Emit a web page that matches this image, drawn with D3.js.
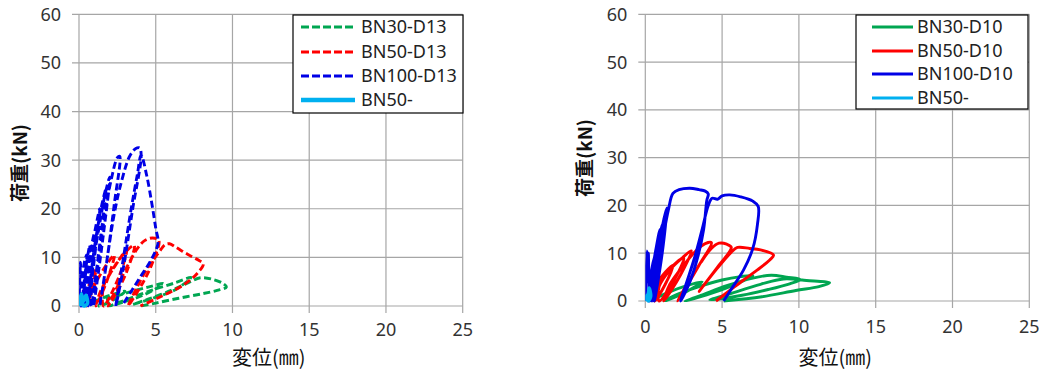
<!DOCTYPE html>
<html>
<head>
<meta charset="utf-8">
<script src="https://cdn.jsdelivr.net/npm/d3@7"></script>
<style>
  body { margin: 0; background: #fff; }
  svg { display: block; }
</style>
</head>
<body>
<div id="chart-area"></div>
<script>
// tick values
const xTicks = [0, 5, 10, 15, 20, 25];
const yTicks = [0, 10, 20, 30, 40, 50, 60];

// left panel (D13), [displacement mm, load kN]
const d13Names = ["BN30-D13", "BN50-D13", "BN100-D13", "BN50-"];
const d13BN30 = [
  [0.3,0],[1.2,1.2],[2.2,2.4],[3.0,3.0],[2.2,1.2],[1.3,0],
  [1.5,0.8],[3.0,2.6],[4.5,3.9],[5.5,4.6],[4.3,2.4],[3.0,0.9],[2.0,0],
  [3.0,1.2],[4.8,3.3],[6.3,4.8],[7.3,5.9],[6.3,3.4],[4.8,1.6],[3.5,0.3],
  [4.5,1.4],[6.0,3.2],[7.2,4.9],[7.9,5.8],[8.7,5.5],[9.4,4.6],[9.6,3.9],[9.0,3.2],[8.0,2.5],[6.5,1.6],[5.0,0.6],[4.0,0]
];
const d13BN50 = [
  [0.2,0],[0.5,3],[0.8,5.5],[1.1,7.5],[0.8,3],[0.5,0],
  [0.9,3.5],[1.4,6.5],[1.9,9],[2.3,10.5],[1.8,5],[1.1,0],
  [1.4,3],[2.0,6.5],[2.6,9.5],[3.1,11.5],[2.6,6],[1.6,0],
  [1.6,4],[2.3,8],[3.0,11],[3.6,12.5],[3.1,7],[2.4,2.5],[1.9,0],
  [2.5,4],[3.2,8.5],[3.8,11.8],[4.3,13.5],[4.8,14],[5.2,13.5],[4.8,9],[4.2,5],[3.2,0],
  [3.8,4],[4.5,8],[5.2,11],[5.6,12.6],[5.9,12.8],[6.3,12.1],[7.1,10.6],[7.8,9.4],[8.1,8.7],[7.7,6.7],[6.8,4.3],[5.1,1.6],[4.0,0]
];
const d13BN100 = [
  [0,0],[0.1,9],[0.12,0],
  [0.2,5],[0.35,9],[0.5,10.5],[0.35,4],[0.2,0],
  [0.3,4],[0.5,9],[0.7,12.5],[0.55,6],[0.35,0],
  [0.5,6],[0.8,12],[1.0,15],[0.8,7],[0.45,0],
  [0.6,6],[0.9,13],[1.2,18],[1.35,20],[1.05,11],[0.6,0],
  [0.8,7],[1.1,14],[1.5,21],[1.75,24],[1.4,14],[0.8,0],
  [0.9,8],[1.3,16],[1.7,23],[2.0,26.5],[1.6,15],[0.95,0],
  [1.3,10],[1.7,19],[2.1,26],[2.5,30.5],[2.65,30.8],[2.3,21],[1.8,9],[1.35,0],
  [1.8,9],[2.3,19],[2.8,26],[3.3,30.8],[3.7,32.4],[3.95,32.5],[4.05,31],[3.5,20],[2.9,8],[2.4,0],
  [2.9,10],[3.4,20],[3.8,27],[4.05,31],[4.4,27],[4.75,21],[5.0,16],[5.15,13],[4.7,9.5],[4.0,6],[3.4,3],[2.8,0]
];
const d13BN50s = [[0,0],[0.15,2.5],[0.3,1],[0.45,2.2],[0.55,0.5],[0.3,0],[0.2,1.8],[0.1,0]];

// right panel (D10)
const d10Names = ["BN30-D10", "BN50-D10", "BN100-D10", "BN50-"];
const d10BN30 = [
  [0.3,0],[1.5,1.8],[2.7,3.2],[3.7,4.0],[2.7,2.0],[1.3,0],
  [1.8,1.0],[3.5,3.0],[5.0,4.4],[6.2,5.1],[7.0,5.3],[5.5,3.0],[4.0,1.3],[2.6,0],
  [3.5,1.0],[5.3,3.2],[7.0,4.8],[8.2,5.4],[9.2,5.0],[10.1,4.5],[9.4,3.6],[8.0,2.4],[6.3,1.2],[4.2,0.2],
  [5.5,1.5],[7.5,3.5],[9.0,4.6],[10.5,4.3],[12.0,3.8],[11.3,3.0],[9.8,2.2],[7.6,0.9],[5.1,0]
];
const d10BN50 = [
  [0.2,0],[0.7,3.5],[1.3,6],[1.8,7.5],[1.3,3.5],[0.6,0],
  [0.7,2.5],[1.3,5.5],[2.0,8],[2.5,9],[1.9,4.5],[0.9,0],
  [0.9,3],[1.6,6.5],[2.4,9],[3.0,10.5],[2.3,5.5],[1.2,0],
  [1.6,3.5],[2.5,7.5],[3.3,10.5],[3.9,12],[4.3,12.2],[3.5,7.5],[2.1,0],
  [2.8,4],[3.6,8],[4.3,11],[4.8,12.1],[5.3,11.9],[5.6,11.2],[4.8,7.5],[3.5,2],
  [4.6,6.5],[5.6,10.2],[6.0,11.2],[6.8,11],[7.5,10.7],[8.35,9.6],[8.1,8.6],[7.3,6.5],[6.4,4.4],[5.5,2.2],[4.6,0]
];
const d10BN100 = [
  [0,0],[0.1,10.5],[0.15,4],[0.2,10],[0.25,0],
  [0.3,4],[0.5,8],[0.7,10],[0.5,4],[0.3,0],
  [0.4,5],[0.7,11],[0.95,15],[0.7,7],[0.4,0],
  [0.5,5],[0.8,11],[1.1,16],[0.85,8],[0.5,0],
  [0.6,6],[0.9,12],[1.2,17],[1.4,19.5],[1.1,10],[0.6,0],
  [0.9,8],[1.2,14],[1.5,19],[1.8,22.5],[2.2,23.3],[2.9,23.6],[3.5,23.3],[3.9,23],[4.1,22.4],[4.0,21],[3.8,15],[3.4,9],[2.9,4],[2.3,0],
  [2.7,4],[3.2,9],[3.7,15],[4.1,20],[4.35,21.5],[4.7,21.3],[5.0,22],[5.5,22.2],[6.2,21.8],[7.0,20.9],[7.35,19.8],[7.3,16],[7.0,11],[6.4,6.5],[5.6,2.5],[5.1,0]
];
const d10BN50s = [[0,0],[0.2,1.5],[0.25,2.7],[0.35,1],[0.2,0],[0.1,1.2],[0,0]];

const colors = ["#00a651", "#ff0000", "#0000e6", "#00b0f0"];

const W = 1043, H = 374;
const svg = d3.select("#chart-area").append("svg")
  .attr("width", W).attr("height", H)
  .style("font-family", "'Noto Sans', sans-serif");

function drawPanel(opts) {
  const x = d3.scaleLinear().domain([0, 25]).range([opts.left, opts.right]);
  const y = d3.scaleLinear().domain([0, 60]).range([opts.bottom, opts.top]);
  const g = svg.append("g");

  // grid
  g.selectAll(".vg").data(xTicks).enter().append("line")
    .attr("x1", d => x(d)).attr("x2", d => x(d))
    .attr("y1", opts.top).attr("y2", opts.bottom + 7)
    .attr("stroke", "#a6a6a6").attr("stroke-width", 1.2);
  g.selectAll(".hg").data(yTicks).enter().append("line")
    .attr("x1", opts.left - 7).attr("x2", opts.right)
    .attr("y1", d => y(d)).attr("y2", d => y(d))
    .attr("stroke", "#a6a6a6").attr("stroke-width", 1.2);

  // tick labels
  g.selectAll(".yl").data(yTicks).enter().append("text")
    .attr("x", opts.left - 18).attr("y", d => y(d))
    .attr("dy", "0.36em").attr("text-anchor", "end")
    .attr("font-size", "18px").attr("fill", "#333")
    .text(d => d);
  g.selectAll(".xl").data(xTicks).enter().append("text")
    .attr("x", d => x(d)).attr("y", opts.bottom + opts.xLabelGap)
    .attr("dy", "0.36em").attr("text-anchor", "middle")
    .attr("font-size", "18px").attr("fill", "#333")
    .text(d => d);

  // axis titles
  g.append("text")
    .attr("x", (opts.left + opts.right) / 2 - 2).attr("y", 358)
    .attr("dy", "0.36em").attr("text-anchor", "middle")
    .attr("font-family", "'Noto Sans CJK JP', sans-serif")
    .attr("font-size", "20px").attr("fill", "#111")
    .text("変位(㎜)");
  g.append("text")
    .attr("transform", `translate(${opts.yTitleX}, ${opts.yTitleY}) rotate(-90)`)
    .attr("dy", "0.36em").attr("text-anchor", "middle")
    .attr("font-family", "'Noto Sans CJK JP', sans-serif")
    .attr("font-weight", "bold")
    .attr("font-size", "19px").attr("fill", "#111")
    .text("荷重(kN)");

  // series
  const clipId = "clip" + opts.id;
  svg.append("clipPath").attr("id", clipId).append("rect")
    .attr("x", opts.left).attr("y", opts.top - 2)
    .attr("width", opts.right - opts.left + 2).attr("height", opts.bottom - opts.top + 4);
  const line = d3.line().x(d => x(d[0])).y(d => y(d[1])).curve(d3.curveCatmullRom.alpha(0.5));
  const series = g.append("g").attr("clip-path", `url(#${clipId})`);
  opts.data.forEach((pts, i) => {
    const last = i === 3;
    series.append("path")
      .attr("d", line(pts))
      .attr("fill", "none")
      .attr("stroke", colors[i])
      .attr("stroke-width", last ? 3.5 : 2.9)
      .attr("stroke-linejoin", "round")
      .attr("stroke-dasharray", opts.dashed && !last ? "7,3.5" : null);
  });

  // legend
  const lg = g.append("g");
  lg.append("rect")
    .attr("x", opts.lgX).attr("y", opts.lgY)
    .attr("width", opts.lgW).attr("height", opts.lgH)
    .attr("fill", "#fff").attr("stroke", "#000").attr("stroke-width", 1.2);
  opts.names.forEach((n, i) => {
    const ly = opts.lgRows[i];
    lg.append("line")
      .attr("x1", opts.lgX + opts.lineX0).attr("x2", opts.lgX + opts.lineX1)
      .attr("y1", ly).attr("y2", ly)
      .attr("stroke", colors[i])
      .attr("stroke-width", i === 3 && opts.dashed ? 4.5 : 3)
      .attr("stroke-dasharray", opts.dashed && i < 3 ? "8,3" : null);
    lg.append("text")
      .attr("x", opts.lgX + opts.textX).attr("y", ly)
      .attr("dy", "0.36em").attr("font-size", "18px").attr("fill", "#222")
      .text(n);
  });
}

drawPanel({
  id: "L", left: 79, right: 462.7, top: 14.3, bottom: 306, xLabelGap: 24,
  yTitleX: 20, yTitleY: 163, dashed: true,
  data: [d13BN30, d13BN50, d13BN100, d13BN50s], names: d13Names,
  lgX: 293, lgY: 15, lgW: 170, lgH: 98, lgRows: [27, 52, 76, 100],
  lineX0: 8, lineX1: 62, textX: 68
});
drawPanel({
  id: "R", left: 645.3, right: 1029.3, top: 14.3, bottom: 301, xLabelGap: 26,
  yTitleX: 585, yTitleY: 158, dashed: false,
  data: [d10BN30, d10BN50, d10BN100, d10BN50s], names: d10Names,
  lgX: 856, lgY: 15, lgW: 172, lgH: 94, lgRows: [27, 51, 74, 98],
  lineX0: 16, lineX1: 57, textX: 61
});
</script>
</body>
</html>
